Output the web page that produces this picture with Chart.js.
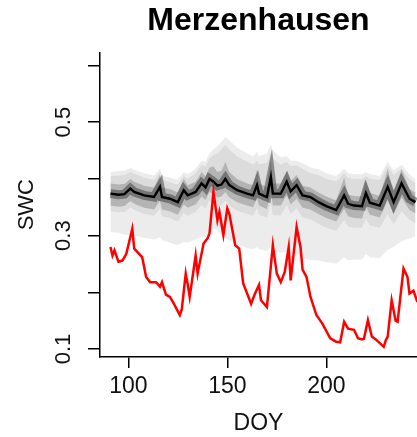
<!DOCTYPE html>
<html>
<head>
<meta charset="utf-8">
<script src="https://cdn.jsdelivr.net/npm/chart.js@4"></script>
<style>
  html, body { margin: 0; padding: 0; background: #fff; }
  canvas { display: block; }
</style>
</head>
<body>
<canvas id="graficoSwc" width="417" height="437"></canvas>
<script>
/* ================= DADOS ================= */

// ensemble simulado: mediana e faixas de quantis
const ensDoy = [91, 95, 98, 101, 103, 108, 113, 116, 117, 121, 125, 128, 130, 134, 137, 139, 141, 143, 145, 147, 149, 151, 155, 160, 163, 165, 166, 170, 172, 173, 177, 180, 182, 185, 188, 192, 196, 200, 205, 209, 211, 214, 218, 220, 222, 227, 231, 234, 238, 242, 245];
const ensMedian = [0.374, 0.372, 0.373, 0.383, 0.377, 0.371, 0.368, 0.386, 0.368, 0.365, 0.359, 0.380, 0.371, 0.377, 0.392, 0.385, 0.400, 0.395, 0.388, 0.390, 0.400, 0.389, 0.380, 0.374, 0.371, 0.389, 0.374, 0.368, 0.403, 0.374, 0.374, 0.395, 0.378, 0.389, 0.371, 0.368, 0.359, 0.352, 0.345, 0.371, 0.356, 0.353, 0.352, 0.375, 0.358, 0.353, 0.386, 0.359, 0.392, 0.365, 0.359];
const ensOuterHi = [0.412, 0.414, 0.415, 0.419, 0.416, 0.410, 0.406, 0.418, 0.406, 0.402, 0.398, 0.412, 0.408, 0.418, 0.432, 0.430, 0.445, 0.452, 0.458, 0.465, 0.474, 0.468, 0.455, 0.445, 0.440, 0.448, 0.440, 0.445, 0.460, 0.450, 0.438, 0.440, 0.432, 0.432, 0.428, 0.420, 0.417, 0.410, 0.405, 0.418, 0.410, 0.408, 0.408, 0.412, 0.408, 0.405, 0.430, 0.415, 0.425, 0.408, 0.400];
const ensOuterLo = [0.306, 0.305, 0.302, 0.301, 0.300, 0.296, 0.293, 0.297, 0.292, 0.288, 0.283, 0.289, 0.288, 0.293, 0.298, 0.298, 0.305, 0.312, 0.310, 0.300, 0.295, 0.292, 0.285, 0.278, 0.276, 0.280, 0.276, 0.273, 0.280, 0.272, 0.270, 0.272, 0.268, 0.268, 0.260, 0.257, 0.256, 0.253, 0.251, 0.262, 0.256, 0.258, 0.258, 0.268, 0.262, 0.260, 0.275, 0.280, 0.290, 0.295, 0.298];
const ensMidHi = [0.405, 0.406, 0.407, 0.412, 0.409, 0.402, 0.398, 0.412, 0.398, 0.394, 0.390, 0.405, 0.400, 0.410, 0.425, 0.422, 0.436, 0.442, 0.445, 0.452, 0.460, 0.452, 0.440, 0.430, 0.425, 0.432, 0.426, 0.428, 0.445, 0.436, 0.425, 0.430, 0.422, 0.424, 0.418, 0.410, 0.407, 0.400, 0.396, 0.410, 0.402, 0.400, 0.400, 0.405, 0.400, 0.398, 0.422, 0.407, 0.418, 0.400, 0.393];
const ensMidLo = [0.343, 0.341, 0.341, 0.350, 0.345, 0.338, 0.335, 0.348, 0.334, 0.331, 0.325, 0.340, 0.335, 0.342, 0.354, 0.348, 0.362, 0.358, 0.352, 0.354, 0.362, 0.352, 0.344, 0.338, 0.335, 0.348, 0.337, 0.332, 0.358, 0.336, 0.336, 0.354, 0.338, 0.348, 0.332, 0.329, 0.321, 0.314, 0.308, 0.328, 0.316, 0.314, 0.314, 0.330, 0.318, 0.314, 0.338, 0.320, 0.343, 0.328, 0.322];
const ensInnerHi = [0.392, 0.390, 0.391, 0.400, 0.395, 0.388, 0.385, 0.407, 0.385, 0.382, 0.376, 0.400, 0.389, 0.395, 0.412, 0.404, 0.420, 0.422, 0.412, 0.414, 0.430, 0.412, 0.400, 0.392, 0.389, 0.417, 0.392, 0.386, 0.434, 0.392, 0.392, 0.414, 0.396, 0.407, 0.388, 0.385, 0.376, 0.369, 0.362, 0.402, 0.372, 0.370, 0.369, 0.400, 0.375, 0.370, 0.417, 0.377, 0.417, 0.382, 0.376];
const ensInnerLo = [0.353, 0.351, 0.352, 0.361, 0.356, 0.349, 0.346, 0.362, 0.346, 0.343, 0.337, 0.355, 0.349, 0.355, 0.369, 0.363, 0.377, 0.373, 0.367, 0.369, 0.377, 0.367, 0.359, 0.353, 0.350, 0.365, 0.353, 0.347, 0.377, 0.353, 0.353, 0.371, 0.355, 0.365, 0.349, 0.346, 0.338, 0.331, 0.325, 0.347, 0.334, 0.331, 0.330, 0.351, 0.337, 0.332, 0.362, 0.338, 0.367, 0.345, 0.339];

// umidade do solo observada
const obsDoy = [91, 92, 93, 95, 97, 99, 102, 103, 107, 109, 111, 114, 116, 117, 119, 121, 123, 126, 127, 129, 130, 131, 134, 135, 138, 140, 141, 143, 145, 146, 148, 150, 151, 154, 156, 158, 162, 164, 166, 167, 170, 173, 175, 177, 179, 181, 182, 185, 187, 188, 190, 192, 195, 198, 202, 205, 207, 209, 211, 214, 216, 218, 219, 221, 223, 225, 229, 230, 231, 233, 235, 236, 239, 241, 242, 244, 246];
const obsSwc = [0.280, 0.265, 0.274, 0.254, 0.256, 0.268, 0.312, 0.277, 0.262, 0.227, 0.218, 0.218, 0.210, 0.218, 0.196, 0.192, 0.180, 0.160, 0.170, 0.233, 0.214, 0.192, 0.265, 0.233, 0.286, 0.295, 0.304, 0.377, 0.327, 0.342, 0.301, 0.348, 0.339, 0.283, 0.277, 0.216, 0.180, 0.198, 0.213, 0.186, 0.174, 0.283, 0.233, 0.218, 0.236, 0.280, 0.221, 0.315, 0.279, 0.240, 0.227, 0.192, 0.160, 0.145, 0.119, 0.113, 0.112, 0.148, 0.136, 0.134, 0.119, 0.117, 0.118, 0.151, 0.122, 0.117, 0.104, 0.115, 0.122, 0.186, 0.150, 0.148, 0.242, 0.227, 0.198, 0.203, 0.183];

// eixos
const doyTicks = [100, 150, 200];
const swcTicks = [0.1, 0.2, 0.3, 0.4, 0.5, 0.6];
const swcLabels = [0.1, 0.3, 0.5];

/* ================= UTIL ================= */

const FONTE = '"Liberation Sans", Arial, sans-serif';

function pontos(xs, ys) {
  return xs.map((x, i) => ({ x, y: ys[i] }));
}

function serie(ys, extra) {
  return Object.assign({
    data: pontos(ensDoy, ys),
    borderWidth: 0,
    pointRadius: 0,
    tension: 0,
    fill: false
  }, extra);
}

// rótulos do eixo y girados, como no gráfico original do R
const rotulosSwc = {
  id: "rotulosSwc",
  afterDraw(chart) {
    const { ctx } = chart;
    const escala = chart.scales.y;
    ctx.save();
    ctx.font = `22px ${FONTE}`;
    ctx.fillStyle = "#111";
    ctx.textAlign = "center";
    ctx.textBaseline = "middle";
    swcLabels.forEach(v => {
      ctx.save();
      ctx.translate(escala.right - 36, escala.getPixelForValue(v));
      ctx.rotate(-Math.PI / 2);
      ctx.fillText(v.toFixed(1), 0, 0);
      ctx.restore();
    });
    ctx.restore();
  }
};

/* ================= GRÁFICO ================= */

new Chart(document.getElementById("graficoSwc"), {
  type: "line",
  data: {
    datasets: [
      serie(ensOuterLo, { order: 9 }),
      serie(ensOuterHi, { backgroundColor: "#ececec", fill: 0, order: 8 }),
      serie(ensMidLo, { order: 7 }),
      serie(ensMidHi, { backgroundColor: "#dcdcdc", fill: 2, order: 6 }),
      serie(ensInnerLo, { order: 5 }),
      serie(ensInnerHi, { backgroundColor: "#b4b4b4", fill: 4, order: 4 }),
      serie(ensMedian, { borderColor: "rgba(40,40,40,0.45)", borderWidth: 9, order: 3 }),
      serie(ensMedian, { borderColor: "#000", borderWidth: 2.4, order: 2 }),
      {
        data: pontos(obsDoy, obsSwc),
        borderColor: "#ff0000",
        borderWidth: 2.5,
        pointRadius: 0,
        tension: 0,
        fill: false,
        order: 1
      }
    ]
  },
  options: {
    responsive: false,
    animation: false,
    devicePixelRatio: 1,
    layout: { padding: 0 },
    plugins: {
      legend: { display: false },
      tooltip: { enabled: false },
      title: {
        display: true,
        text: "Merzenhausen",
        fullSize: false,
        color: "#000",
        font: { family: FONTE, size: 32, weight: "bold" },
        padding: { top: 2, bottom: 12 }
      }
    },
    scales: {
      x: {
        type: "linear",
        min: 85.7,
        max: 245.8,
        afterBuildTicks: s => { s.ticks = doyTicks.map(v => ({ value: v })); },
        afterFit: s => { s.height = 80; },
        grid: { drawOnChartArea: false, drawTicks: true, tickLength: 11, color: "#000", lineWidth: 1.5 },
        border: { display: true, color: "#000", width: 1.5 },
        ticks: {
          color: "#111",
          font: { family: FONTE, size: 23 },
          padding: 5,
          maxRotation: 0,
          autoSkip: false,
          callback: v => String(v)
        },
        title: {
          display: true,
          text: "DOY",
          color: "#111",
          font: { family: FONTE, size: 23 },
          padding: { top: 0, bottom: 0 }
        }
      },
      y: {
        type: "linear",
        min: 0.086,
        max: 0.623,
        afterBuildTicks: s => { s.ticks = swcTicks.map(v => ({ value: v })); },
        afterFit: s => { s.width = 100; },
        grid: { drawOnChartArea: false, drawTicks: true, tickLength: 12, color: "#000", lineWidth: 1.5 },
        border: { display: true, color: "#000", width: 1.5 },
        ticks: { display: false },
        title: {
          display: true,
          text: "SWC",
          color: "#111",
          font: { family: FONTE, size: 22 },
          padding: { top: 14, bottom: 0 }
        }
      }
    }
  },
  plugins: [rotulosSwc]
});
</script>
</body>
</html>
